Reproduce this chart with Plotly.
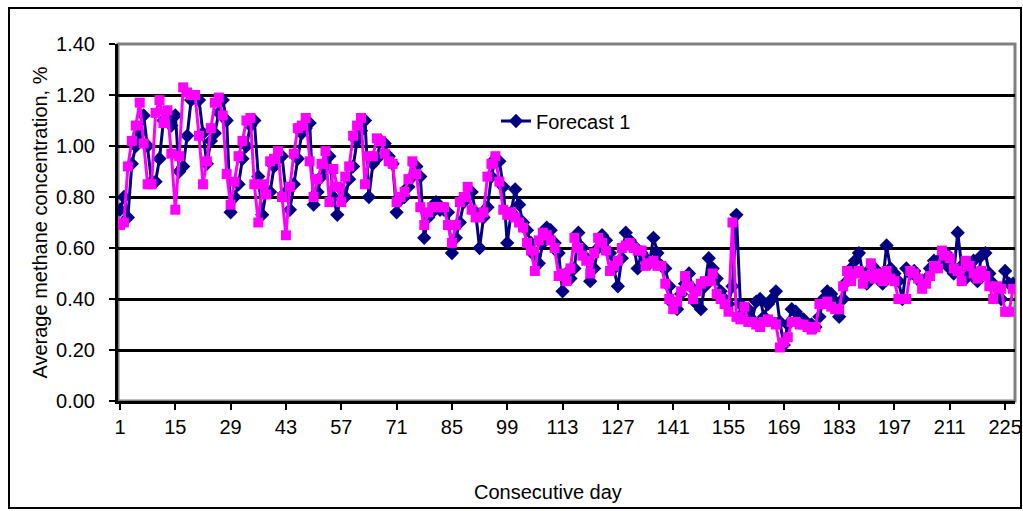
import plotly.graph_objects as go

days = list(range(1, 228))

actual = [
    0.69, 0.70, 0.92, 1.02, 1.08, 1.17, 1.01, 0.85, 0.85, 1.13,
    1.18, 1.09, 1.14, 0.97, 0.75, 0.96, 1.23, 1.21, 1.20, 1.20,
    1.04, 0.85, 0.94, 1.07, 1.17, 1.19, 1.12, 0.89, 0.77, 0.86,
    0.96, 1.02, 1.10, 1.11, 0.85, 0.70, 0.85, 0.81, 0.94, 0.95,
    0.98, 0.80, 0.65, 0.84, 0.97, 1.07, 1.08, 1.11, 0.94, 0.80,
    0.87, 0.93, 0.98, 0.78, 0.91, 0.84, 0.78, 0.88, 0.92, 1.04,
    1.08, 1.11, 0.85, 0.96, 0.96, 1.03, 1.02, 0.97, 0.94, 0.93,
    0.78, 0.80, 0.82, 0.87, 0.94, 0.89, 0.76, 0.69, 0.74, 0.76,
    0.76, 0.76, 0.76, 0.69, 0.62, 0.69, 0.78, 0.80, 0.84, 0.75,
    0.72, 0.72, 0.74, 0.88, 0.93, 0.96, 0.86, 0.75, 0.73, 0.74,
    0.72, 0.70, 0.68, 0.62, 0.59, 0.51, 0.63, 0.66, 0.65, 0.63,
    0.60, 0.49, 0.50, 0.47, 0.52, 0.64, 0.60, 0.57, 0.55, 0.50,
    0.58, 0.64, 0.62, 0.59, 0.51, 0.53, 0.55, 0.60, 0.61, 0.62,
    0.60, 0.59, 0.59, 0.53, 0.54, 0.55, 0.53, 0.53, 0.46, 0.40,
    0.36, 0.39, 0.43, 0.49, 0.45, 0.40, 0.43, 0.46, 0.47, 0.47,
    0.50, 0.42, 0.40, 0.38, 0.35, 0.70, 0.33, 0.32, 0.37, 0.31,
    0.31, 0.30, 0.29, 0.31, 0.32, 0.31, 0.30, 0.21, 0.23, 0.25,
    0.31, 0.31, 0.30, 0.30, 0.29, 0.28, 0.29, 0.38, 0.38, 0.39,
    0.37, 0.36, 0.36, 0.45, 0.51, 0.47, 0.50, 0.51, 0.46, 0.49,
    0.54, 0.48, 0.50, 0.47, 0.51, 0.48, 0.47, 0.40, 0.40, 0.40,
    0.51, 0.50, 0.48, 0.44, 0.46, 0.49, 0.53, 0.52, 0.59, 0.57,
    0.56, 0.52, 0.51, 0.47, 0.55, 0.53, 0.50, 0.48, 0.51, 0.49,
    0.45, 0.40, 0.45, 0.44, 0.35, 0.35, 0.44,
]

forecast1 = [
    0.75, 0.80, 0.72, 0.93, 1.00, 1.05, 1.12, 1.00, 0.86, 0.86,
    0.95, 1.10, 1.13, 1.08, 1.12, 0.90, 0.92, 1.04, 1.18, 1.19,
    1.18, 1.05, 0.93, 1.02, 1.05, 1.13, 1.18, 1.10, 0.74, 0.80,
    0.85, 0.95, 1.00, 1.08, 1.10, 0.88, 0.73, 0.82, 0.82, 0.92,
    0.95, 0.96, 0.82, 0.75, 0.85, 0.95, 1.05, 1.07, 1.09, 0.77,
    0.82, 0.88, 0.92, 0.96, 0.80, 0.73, 0.83, 0.80, 0.87, 0.92,
    1.02, 1.06, 1.10, 0.80, 0.93, 0.95, 1.02, 1.01, 0.96, 0.93,
    0.74, 0.79, 0.80, 0.84, 0.88, 0.92, 0.88, 0.64, 0.72, 0.74,
    0.78, 0.75, 0.75, 0.74, 0.58, 0.64, 0.70, 0.78, 0.80, 0.82,
    0.74, 0.60, 0.72, 0.76, 0.88, 0.95, 0.94, 0.84, 0.62, 0.74,
    0.83, 0.77, 0.70, 0.67, 0.62, 0.57, 0.54, 0.62, 0.68, 0.67,
    0.62, 0.58, 0.43, 0.50, 0.48, 0.52, 0.66, 0.60, 0.56, 0.47,
    0.52, 0.60, 0.65, 0.63, 0.58, 0.52, 0.45, 0.56, 0.66, 0.63,
    0.61, 0.52, 0.58, 0.56, 0.54, 0.64, 0.58, 0.53, 0.52, 0.45,
    0.38, 0.36, 0.42, 0.46, 0.50, 0.44, 0.38, 0.36, 0.45, 0.56,
    0.52, 0.48, 0.43, 0.40, 0.38, 0.45, 0.73, 0.38, 0.35, 0.36,
    0.32, 0.39, 0.40, 0.33, 0.38, 0.40, 0.43, 0.31, 0.22, 0.30,
    0.36, 0.35, 0.33, 0.32, 0.30, 0.30, 0.29, 0.33, 0.40, 0.43,
    0.42, 0.39, 0.33, 0.40, 0.47, 0.52, 0.55, 0.58, 0.50, 0.46,
    0.52, 0.52, 0.48, 0.46, 0.61, 0.52, 0.50, 0.47, 0.40, 0.52,
    0.50, 0.51, 0.48, 0.46, 0.48, 0.52, 0.55, 0.55, 0.54, 0.58,
    0.52, 0.50, 0.66, 0.53, 0.48, 0.52, 0.55, 0.47, 0.57, 0.58,
    0.50, 0.46, 0.44, 0.40, 0.51, 0.46, 0.46,
]

x_ticks = [1, 15, 29, 43, 57, 71, 85, 99, 113, 127, 141, 155, 169, 183, 197, 211, 225]
y_ticks = [0.0, 0.2, 0.4, 0.6, 0.8, 1.0, 1.2, 1.4]

FONT = "Liberation Sans, Arial, sans-serif"

W, H = 1023, 511
L, R, T, B = 118, 8, 44, 110
PW, PH = W - L - R, H - T - B


def px(xf):
    return (xf - L) / PW


def py(yf):
    return (H - B - yf) / PH


fig = go.Figure()
fig.add_trace(go.Scatter(
    x=days, y=forecast1, mode="lines+markers", name="Forecast 1",
    line=dict(color="#000080", width=3),
    marker=dict(symbol="diamond", size=11, color="#000080"),
))
fig.add_trace(go.Scatter(
    x=days, y=actual, mode="lines+markers", name="Actual", showlegend=False,
    line=dict(color="#FF00FF", width=3),
    marker=dict(symbol="square", size=10, color="#FF00FF"),
))

# plot-area border (gray)
fig.add_shape(type="rect", xref="paper", yref="paper", x0=0, x1=1, y0=0, y1=1,
              line=dict(color="#808080", width=3), layer="below")
# outer chart border
fig.add_shape(type="rect", xref="paper", yref="paper",
              x0=px(9), x1=px(1021), y0=py(508), y1=py(8),
              line=dict(color="black", width=2))

fig.add_annotation(text="Consecutive day", xref="paper", yref="paper",
                   x=px(548), y=py(492),
                   showarrow=False, font=dict(family=FONT, size=20, color="black"),
                   xanchor="center", yanchor="middle")

fig.update_layout(
    width=W, height=H, autosize=False,
    margin=dict(l=L, r=R, t=T, b=B, autoexpand=False),
    paper_bgcolor="white", plot_bgcolor="white",
    font=dict(family=FONT, size=20, color="black"),
    showlegend=True,
    hovermode=False,
    legend=dict(x=px(496), y=py(121), xanchor="left", yanchor="middle",
                bgcolor="rgba(0,0,0,0)", font=dict(family=FONT, size=20)),
    xaxis=dict(range=[0.5, 227.5], tickmode="array", tickvals=x_ticks,
               automargin=False,
               showgrid=False, zeroline=False, showline=True,
               linecolor="black", linewidth=3, ticks="outside",
               ticklen=6, tickwidth=2, tickcolor="black",
               tickfont=dict(family=FONT, size=20)),
    yaxis=dict(range=[0, 1.4], tickmode="array", tickvals=y_ticks,
               automargin=False,
               tickformat=".2f", showgrid=True, gridcolor="black", gridwidth=3,
               zeroline=False, showline=True, linecolor="black", linewidth=3,
               ticks="outside", ticklen=6, tickwidth=2, tickcolor="black",
               ticklabelstandoff=10,
               tickfont=dict(family=FONT, size=20),
               title=dict(text="Average methane concentration, %",
                          font=dict(family=FONT, size=20), standoff=4)),
)

fig.write_html("out.html", config={"displayModeBar": False},
               post_script="document.body.style.margin='0';")
